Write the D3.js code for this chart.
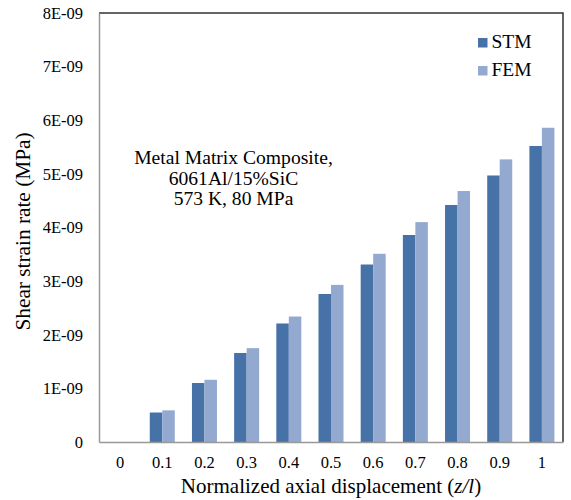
<!DOCTYPE html>
<html>
<head>
<meta charset="utf-8">
<script src="https://cdn.jsdelivr.net/npm/d3@7"></script>
<style>
  body { margin: 0; background: #fff; }
  svg text { font-family: "Liberation Serif", "Times New Roman", serif; fill: #000; }
</style>
</head>
<body>
<svg id="chart" width="571" height="500"></svg>
<script>
// data (units of 1E-09)
const categories = ['0', '0.1', '0.2', '0.3', '0.4', '0.5', '0.6', '0.7', '0.8', '0.9', '1'];
const stmValues = [0, 0.55, 1.10, 1.66, 2.21, 2.76, 3.31, 3.86, 4.42, 4.97, 5.52];
const femValues = [0, 0.59, 1.16, 1.75, 2.34, 2.93, 3.51, 4.10, 4.68, 5.27, 5.86];
const yTicks = [0, 1, 2, 3, 4, 5, 6, 7, 8];
const seriesNames = ['STM', 'FEM'];
const colors = ['#4672a8', '#93a9d0'];

const margin = { top: 13, right: 8, bottom: 58, left: 99 },
    width = 571,
    height = 500;

const svg = d3.select('#chart');

const x = d3.scaleBand()
    .domain(categories)
    .range([margin.left, width - margin.right]);

const xInner = d3.scaleBand()
    .domain(seriesNames)
    .range([0, 25])
    .padding(0);

const y = d3.scaleLinear()
    .domain([0, 8])
    .range([height - margin.bottom, margin.top]);

// plot frame: dark top/right
svg.append('path')
    .attr('d', `M${margin.left},${margin.top}H${width - margin.right}V${height - margin.bottom}`)
    .attr('fill', 'none')
    .attr('stroke', '#333')
    .attr('stroke-width', 1.5);

// bars
const series = [stmValues, femValues];
categories.forEach((c, i) => {
    seriesNames.forEach((s, j) => {
        const v = series[j][i];
        if (v <= 0) return;
        svg.append('rect')
            .attr('x', x(c) + x.bandwidth() / 2 - 12.5 + xInner(s))
            .attr('y', y(v))
            .attr('width', xInner.bandwidth())
            .attr('height', y(0) - y(v))
            .attr('fill', colors[j]);
    });
});

// y axis
const yAxis = svg.append('g')
    .attr('transform', `translate(${margin.left},0)`)
    .call(d3.axisLeft(y).tickValues(yTicks).tickSize(0).tickPadding(16)
        .tickFormat(d => d === 0 ? '0' : d + 'E-09'));
yAxis.select('.domain').attr('stroke', '#999').attr('stroke-width', 1.5);
yAxis.selectAll('text').style('font-size', '16.5px');

// x axis
const xAxis = svg.append('g')
    .attr('transform', `translate(0,${height - margin.bottom})`)
    .call(d3.axisBottom(x).tickSize(0).tickPadding(14.5));
xAxis.select('.domain').attr('stroke', '#999').attr('stroke-width', 1.5);
xAxis.selectAll('text').style('font-size', '16.5px');

// axis titles
svg.append('text')
    .attr('transform', `translate(30,${(margin.top + height - margin.bottom) / 2 + 4}) rotate(-90)`)
    .attr('text-anchor', 'middle')
    .style('font-size', '21.3px')
    .text('Shear strain rate (MPa)');

const xTitle = svg.append('text')
    .attr('x', 331)
    .attr('y', 493)
    .attr('text-anchor', 'middle')
    .style('font-size', '21px');
xTitle.append('tspan').text('Normalized axial displacement (');
xTitle.append('tspan').style('font-style', 'italic').text('z/l');
xTitle.append('tspan').text(')');

// annotation
const note = ['Metal Matrix Composite,', '6061Al/15%SiC', '573 K, 80 MPa'];
svg.append('g').selectAll('text')
    .data(note)
    .join('text')
    .attr('x', 233.5)
    .attr('y', (d, i) => 164 + i * 20.7)
    .attr('text-anchor', 'middle')
    .style('font-size', '19.6px')
    .text(d => d);

// legend
const legend = svg.append('g').selectAll('g')
    .data(seriesNames)
    .join('g')
    .attr('transform', (d, i) => `translate(478,${38 + i * 28})`);
legend.append('rect')
    .attr('width', 9.5)
    .attr('height', 9.5)
    .attr('fill', (d, i) => colors[i]);
legend.append('text')
    .attr('x', 13.5)
    .attr('y', 9.5)
    .style('font-size', '19.5px')
    .text(d => d);
</script>
</body>
</html>
